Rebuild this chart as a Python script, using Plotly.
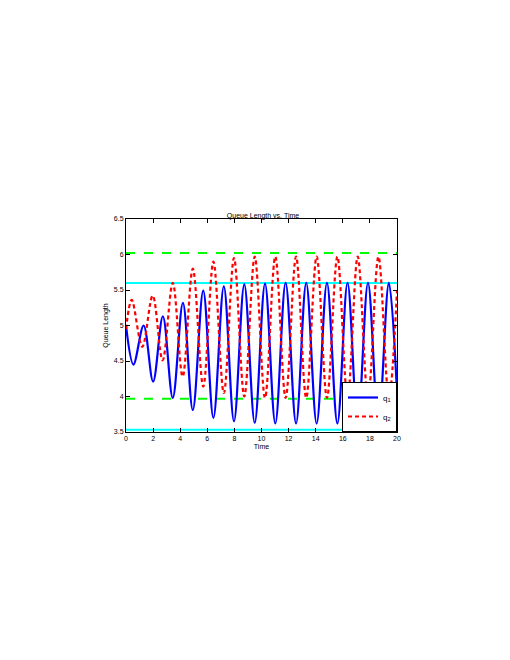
import plotly.graph_objects as go

t_q1 = [0, 0.55, 1.3, 2.0, 2.72, 3.45, 4.2, 4.93, 5.7, 6.45, 7.22, 7.97, 8.73, 9.5,
        10.26, 11.02, 11.78, 12.55, 13.3, 14.07, 14.83, 15.6, 16.35, 17.1, 17.86,
        18.63, 19.4, 20]
q1 = [5.0, 4.45, 5.0, 4.21, 5.13, 3.98, 5.32, 3.81, 5.49, 3.7, 5.55, 3.65, 5.58, 3.63,
      5.59, 3.62, 5.6, 3.62, 5.6, 3.62, 5.6, 3.62, 5.6, 3.62, 5.6, 3.62, 5.6, 4.05]

t_q2 = [0, 0.42, 1.2, 1.97, 2.7, 3.45, 4.18, 4.93, 5.7, 6.45, 7.22, 7.97, 8.73, 9.5,
        10.26, 11.02, 11.78, 12.55, 13.3, 14.07, 14.83, 15.6, 16.35, 17.1, 17.86,
        18.63, 19.4, 20]
q2 = [4.95, 5.36, 4.7, 5.42, 4.51, 5.6, 4.28, 5.8, 4.14, 5.9, 4.05, 5.95, 4.0, 5.97,
      3.98, 5.97, 3.98, 5.97, 3.98, 5.97, 3.98, 5.97, 3.98, 5.97, 3.98, 5.97, 3.98, 5.5]

cyan_levels = [5.6, 3.53]
green_levels = [6.02, 3.97]

fig = go.Figure()
for v in cyan_levels:
    fig.add_trace(go.Scatter(x=[0, 20], y=[v, v], mode='lines', showlegend=False,
                             line=dict(color='#00ffff', width=2)))
for v in green_levels:
    fig.add_trace(go.Scatter(x=[0, 20], y=[v, v], mode='lines', showlegend=False,
                             line=dict(color='#00ff00', width=2, dash='dash')))
fig.add_trace(go.Scatter(x=t_q1, y=q1, mode='lines', name='q<sub>1</sub>',
                         line=dict(color='#0000ff', width=2.2, shape='spline', smoothing=1)))
fig.add_trace(go.Scatter(x=t_q2, y=q2, mode='lines', name='q<sub>2</sub>',
                         line=dict(color='#ff0000', width=2.2, dash='4px,3px', shape='spline', smoothing=1)))

axis = dict(showgrid=False, zeroline=False, showline=True, mirror='allticks', linecolor='black',
            linewidth=1, ticks='inside', ticklen=4, tickcolor='black', tickfont=dict(size=7))
fig.update_layout(
    width=510, height=660,
    margin=dict(l=118, r=121, t=211, b=236),
    paper_bgcolor='white', plot_bgcolor='white',
    font=dict(family='Liberation Sans', size=7, color='black'),
    title=dict(text='Queue Length vs. Time', x=0.5, xanchor='center', y=0.682, yanchor='bottom',
               font=dict(size=7)),
    xaxis=dict(axis, range=[0, 20], dtick=2, title=dict(text='Time', standoff=2, font=dict(size=7))),
    yaxis=dict(axis, range=[3.5, 6.5], dtick=0.5, title=dict(text='Queue Length', standoff=4, font=dict(size=7))),
    legend=dict(x=1, y=0, xanchor='right', yanchor='bottom', bgcolor='white',
                bordercolor='black', borderwidth=1, font=dict(size=8),
                tracegroupgap=0, itemwidth=30),
)
fig.write_html("out.html")
